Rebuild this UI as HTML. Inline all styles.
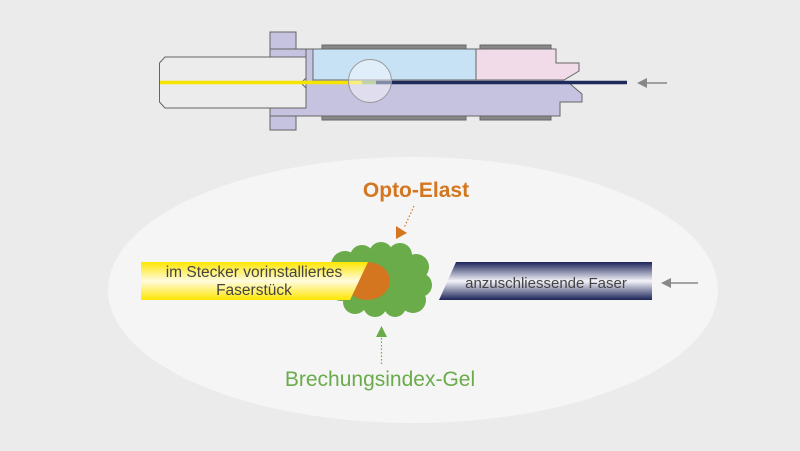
<!DOCTYPE html>
<html><head><meta charset="utf-8"><style>
html,body{margin:0;padding:0;background:#ebebeb;width:800px;height:451px;overflow:hidden}
svg{display:block}
text{font-family:"Liberation Sans",sans-serif}
</style></head><body>
<svg width="800" height="451" viewBox="0 0 800 451">
<defs>
<linearGradient id="yg" x1="0" y1="0" x2="0" y2="1">
<stop offset="0" stop-color="#ffe600"/><stop offset="0.5" stop-color="#fffbe0"/><stop offset="1" stop-color="#ffe600"/></linearGradient>
<linearGradient id="ng" x1="0" y1="0" x2="0" y2="1">
<stop offset="0" stop-color="#1c2458"/><stop offset="0.5" stop-color="#f4f4fa"/><stop offset="1" stop-color="#1c2458"/></linearGradient>
</defs>
<rect width="800" height="451" fill="#ebebeb"/>
<g stroke="#666" stroke-width="1">
<rect x="322" y="45" width="144" height="4" fill="#888"/>
<rect x="480" y="45" width="71" height="4" fill="#888"/>
<rect x="322" y="116" width="144" height="4" fill="#888"/>
<rect x="480" y="116" width="71" height="4" fill="#888"/>
<rect x="270" y="32" width="26" height="17" fill="#c6c3e0"/>
<rect x="270" y="113" width="26" height="17" fill="#c6c3e0"/>
<path d="M270 49 H306 V57 H270 Z" fill="#c6c3e0"/>
<path d="M306 49 H313 V83 H306 Z" fill="#c6c3e0"/>
<path d="M306 83 H569 L582 94 V102 H560 V116 H270 V108 H306 Z" fill="#c6c3e0"/>
<rect x="313" y="49" width="163" height="31" fill="#c7e1f5"/>
<path d="M476 49 H556 V63 H579 V71 L564 80 H476 Z" fill="#f1dbe9"/>
<path d="M165 57 H306 V78 L301 83 L306 88 V108 H165 L159.5 102 V63 Z" fill="#ececec"/>
<line x1="159.5" y1="83" x2="302" y2="83"/>
</g>
<line x1="160" y1="82.5" x2="362" y2="82.5" stroke="#f5e400" stroke-width="3.5"/>
<line x1="362" y1="82.5" x2="376" y2="82.5" stroke="#8fb05a" stroke-width="3.5"/>
<line x1="376" y1="82.5" x2="627" y2="82.5" stroke="#1d2a5a" stroke-width="3.5"/>
<circle cx="370" cy="81" r="21.5" fill="rgba(255,255,255,0.45)" stroke="#999" stroke-width="1"/>
<line x1="645" y1="83" x2="667" y2="83" stroke="#888" stroke-width="1.5"/>
<polygon points="637,83 647,78 647,88" fill="#888"/>
<ellipse cx="413" cy="290" rx="305" ry="133" fill="#f5f5f5"/>
<text x="416" y="197" font-size="21" font-weight="bold" fill="#d4761f" text-anchor="middle">Opto-Elast</text>
<line x1="414" y1="206" x2="404" y2="228" stroke="#d4761f" stroke-width="1.2" stroke-dasharray="1.5,2"/>
<polygon points="396,226 407,233 396,239" fill="#d4761f"/>
<g fill="#6aab4a">
<circle cx="345" cy="265" r="14"/><circle cx="362" cy="257" r="12"/><circle cx="381" cy="254" r="12"/>
<circle cx="400" cy="255" r="12"/><circle cx="416" cy="267" r="13"/><circle cx="420" cy="285" r="12"/>
<circle cx="413" cy="300" r="13"/><circle cx="395" cy="306" r="11"/><circle cx="375" cy="305" r="12"/>
<circle cx="355" cy="302" r="12"/><circle cx="341" cy="289" r="12"/><circle cx="382" cy="282" r="29"/>
<circle cx="402" cy="280" r="16"/>
</g>
<ellipse cx="367" cy="281" rx="23" ry="19" fill="#d4761f"/>
<polygon points="141,262 368,262 350,300 141,300" fill="url(#yg)"/>
<text x="254" y="277" font-size="15.5" fill="#444" text-anchor="middle">im Stecker vorinstalliertes</text>
<text x="254" y="295" font-size="15.5" fill="#444" text-anchor="middle">Faserstück</text>
<polygon points="456,262 652,262 652,300 439,300" fill="url(#ng)"/>
<text x="546" y="288" font-size="15" fill="#444" text-anchor="middle">anzuschliessende Faser</text>
<line x1="669" y1="283" x2="698" y2="283" stroke="#888" stroke-width="1.5"/>
<polygon points="661,283 671,278 671,288" fill="#888"/>
<polygon points="376,337 387,337 381.5,326" fill="#6aab4a"/>
<line x1="381.5" y1="338" x2="381.5" y2="365" stroke="#6aab4a" stroke-width="1.2" stroke-dasharray="1.5,2"/>
<text x="380" y="386" font-size="21" fill="#6aab4a" text-anchor="middle">Brechungsindex-Gel</text>
</svg>
</body></html>
